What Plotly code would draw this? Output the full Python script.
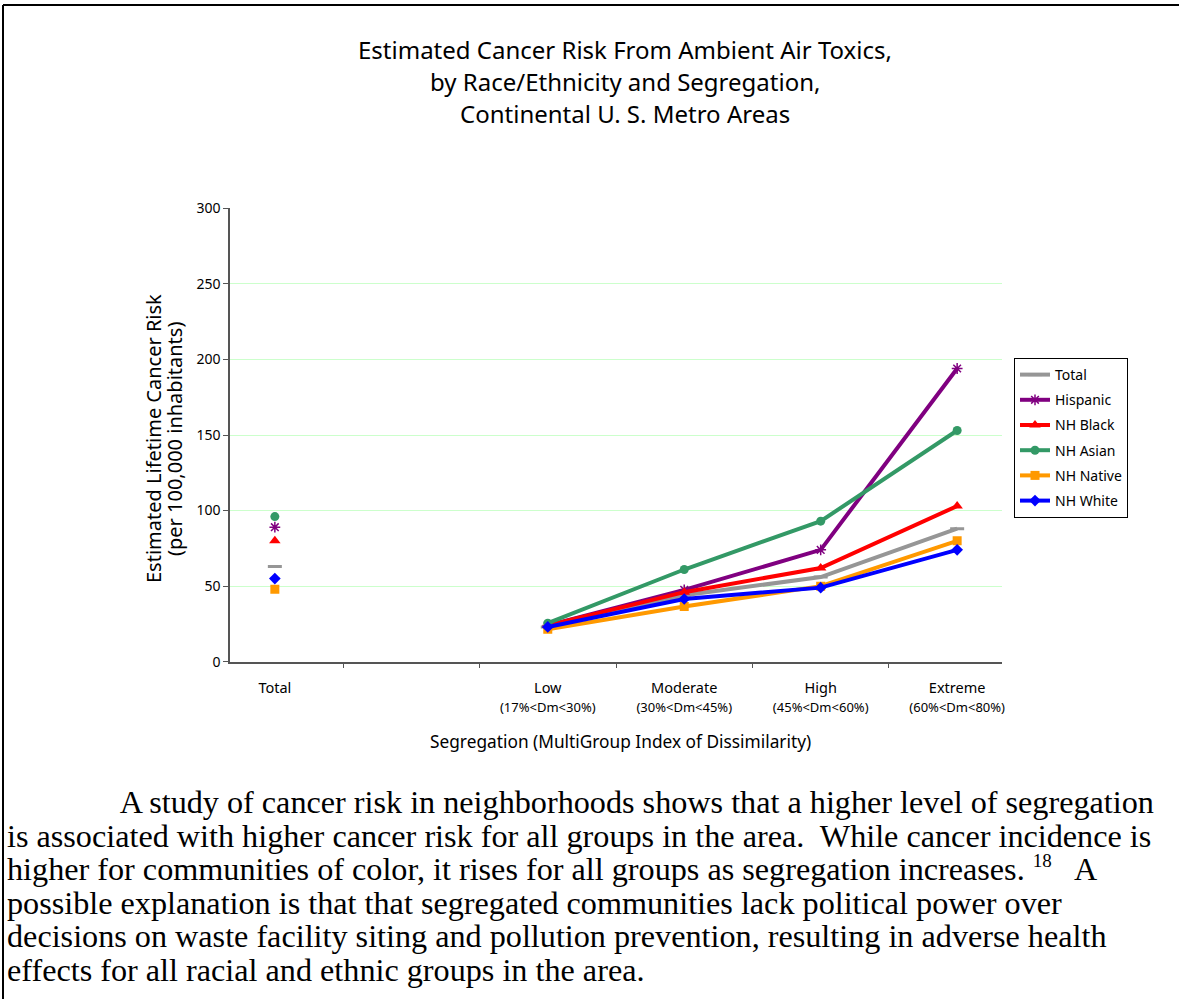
import plotly.graph_objects as go

W, H = 1179, 999

# Categories along the x axis (blank slot separates the overall value from the segregation levels)
levels = ["Low", "Moderate", "High", "Extreme"]
ranges = ["(17%&lt;Dm&lt;30%)", "(30%&lt;Dm&lt;45%)", "(45%&lt;Dm&lt;60%)", "(60%&lt;Dm&lt;80%)"]
categories = ["Total", " "] + [
    f"{lvl}<br><span style='font-size:13px'>{rng}</span>" for lvl, rng in zip(levels, ranges)
]

# Estimated lifetime cancer risk per 100,000 inhabitants
total = [63, None, 23, 44, 56, 88]
hispanic = [89, None, 24, 47.5, 74, 194]
nh_black = [80, None, 24, 46, 62, 103]
nh_asian = [96, None, 25.5, 61, 93, 153]
nh_native = [48, None, 21.5, 36.5, 50, 80]
nh_white = [55, None, 23, 41.5, 49, 74]

series_names = ["Total", "Hispanic", "NH Black", "NH Asian", "NH Native", "NH White"]
series_values = [total, hispanic, nh_black, nh_asian, nh_native, nh_white]
series_colors = ["#969696", "#800080", "#FF0000", "#339966", "#FF9900", "#0000FF"]
series_symbols = ["line-ew-open", "asterisk-open", "triangle-up", "circle", "square", "diamond"]
series_sizes = [10, 9, 10, 9, 9, 9]

y_ticks = [0, 50, 100, 150, 200, 250, 300]

paragraph = [
    "&nbsp;" * 14 + "A study of cancer risk in neighborhoods shows that a higher level of segregation",
    "is associated with higher cancer risk for all groups in the area.&nbsp; While cancer incidence is",
    "higher for communities of color, it rises for all groups as segregation increases.&nbsp;"
    "<sup><span style='font-size:19px'>18</span></sup>&nbsp;&nbsp; A",
    "possible explanation is that that segregated communities lack political power over",
    "decisions on waste facility siting and pollution prevention, resulting in adverse health",
    "effects for all racial and ethnic groups in the area.",
]

title_lines = [
    "Estimated Cancer Risk From Ambient Air Toxics,",
    "by Race/Ethnicity and Segregation,",
    "Continental U. S. Metro Areas",
]

SANS = "Noto Sans, DejaVu Sans, sans-serif"
SERIF = "Liberation Serif, Times New Roman, serif"


def px(x):
    return x / W


def py(y):
    return 1 - y / H


fig = go.Figure()
for name, vals, color, sym, size in zip(series_names, series_values, series_colors,
                                         series_symbols, series_sizes):
    if sym.startswith("line"):
        mline = 3
    elif sym.endswith("-open"):
        mline = 1.5
    else:
        mline = 0
    fig.add_trace(go.Scatter(
        x=categories, y=vals, name=name, mode="lines+markers",
        legendgroup=name,
        line=dict(color=color, width=4),
        marker=dict(symbol=sym, size=size, color=color, line=dict(color=color, width=mline)),
        connectgaps=False,
    ))

fig.update_layout(
    width=W, height=H,
    margin=dict(l=0, r=0, t=0, b=0, autoexpand=False),
    paper_bgcolor="white", plot_bgcolor="white",
    showlegend=True,
    xaxis=dict(
        domain=[px(230), px(1002)],
        type="category", categoryorder="array", categoryarray=categories,
        showline=True, linecolor="#555", linewidth=1.5,
        ticks="outside", ticklen=5, tickcolor="#555", tickson="boundaries",
        ticklabelstandoff=12,
        showgrid=False, automargin=False, fixedrange=True,
        tickfont=dict(family=SANS, size=14.5, color="#000"),
    ),
    yaxis=dict(
        domain=[py(661.7), py(208.3)],
        range=[0, 300], tickvals=y_ticks,
        showline=True, linecolor="#555", linewidth=1.5,
        ticks="outside", ticklen=5, tickcolor="#555",
        showgrid=True, gridcolor="#CCFFCC", gridwidth=1,
        zeroline=False, automargin=False, fixedrange=True,
        tickfont=dict(family=SANS, size=14, color="#000"),
    ),
    legend=dict(
        x=px(1014), y=py(358), xanchor="left", yanchor="top",
        bgcolor="white", bordercolor="#000", borderwidth=1,
        font=dict(family=SANS, size=14, color="#000"),
        tracegroupgap=4, traceorder="grouped",
        itemwidth=30,
    ),
)

# Chart title
for i, line in enumerate(title_lines):
    fig.add_annotation(
        xref="paper", yref="paper", x=px(625), y=py(50 + i * 31.5),
        text=line, showarrow=False, xanchor="center", yanchor="middle",
        font=dict(family=SANS, size=24, color="#000"),
    )

# Axis titles
y_title = ["Estimated Lifetime Cancer Risk", "(per 100,000 inhabitants)"]
for i, line in enumerate(y_title):
    fig.add_annotation(
        xref="paper", yref="paper", x=px(153 + i * 21), y=py(439),
        text=line, textangle=-90, showarrow=False, xanchor="center", yanchor="middle",
        font=dict(family=SANS, size=20, color="#000"),
    )
fig.add_annotation(
    xref="paper", yref="paper", x=px(620), y=py(741),
    text="Segregation (MultiGroup Index of Dissimilarity)",
    showarrow=False, xanchor="center", yanchor="middle",
    font=dict(family=SANS, size=17.3, color="#000"),
)

# Body text below the chart: one block, 33.6 px leading, 32 px glyphs
body = "<br>".join(f"<span style='font-size:32.2px'>{line}</span>" for line in paragraph)
fig.add_annotation(
    xref="paper", yref="paper", x=px(5), y=py(886),
    text=body, showarrow=False, xanchor="left", yanchor="middle", align="left",
    font=dict(family=SERIF, size=33.6 / 1.3, color="#000"),
)

# Page frame lines
fig.add_shape(type="line", xref="paper", yref="paper", x0=px(3), y0=py(5), x1=1, y1=py(5),
              line=dict(color="#000", width=2))
fig.add_shape(type="line", xref="paper", yref="paper", x0=px(3), y0=py(5), x1=px(3), y1=0,
              line=dict(color="#000", width=2))

fig.write_html("out.html")
